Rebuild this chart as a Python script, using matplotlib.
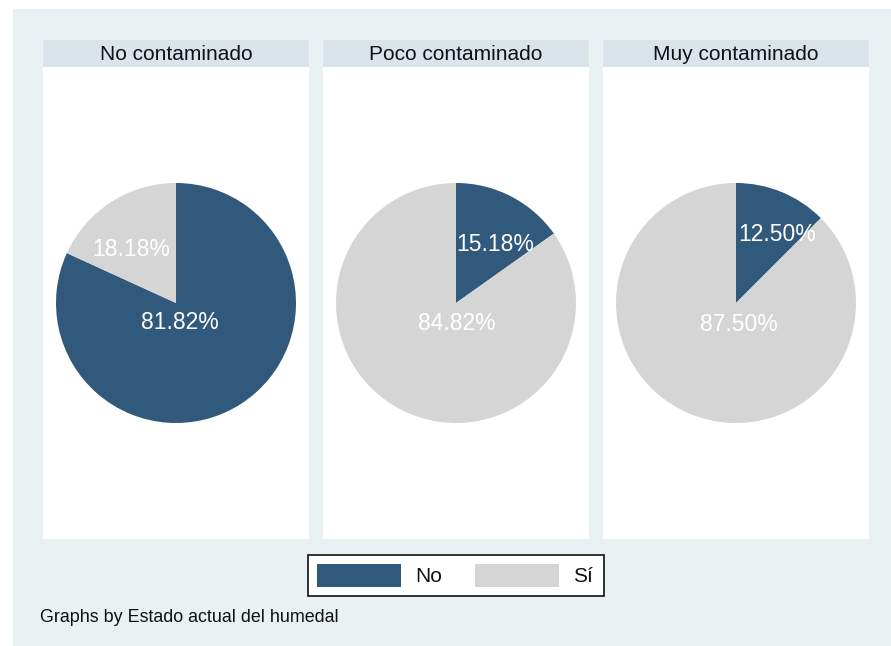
import matplotlib
matplotlib.use("Agg")
import matplotlib.pyplot as plt
from matplotlib.patches import Rectangle

plt.rcParams['font.family'] = ['Liberation Sans', 'DejaVu Sans']

# porcentaje por estado del humedal
groups = ["No contaminado", "Poco contaminado", "Muy contaminado"]
pct_no = [81.82, 15.18, 12.50]
pct_si = [18.18, 84.82, 87.50]
legend_labels = ["No", "Sí"]
footer = "Graphs by Estado actual del humedal"

c_no = "#31597c"
c_si = "#d5d5d5"
c_bg = "#eaf1f3"
c_strip = "#d9e5eb"

W, H = 891, 646
fig = plt.figure(figsize=(W / 100, H / 100), dpi=100)
fig.patch.set_facecolor("white")

# fondo en coordenadas de pixel
bg = fig.add_axes([0, 0, 1, 1])
bg.set_xlim(0, W)
bg.set_ylim(H, 0)
bg.axis("off")
bg.add_patch(Rectangle((13, 9), W - 13, H - 9, facecolor=c_bg, edgecolor="none"))

panel_x = [43, 323, 603]
panel_w = 266
top, strip_bot, bottom = 40, 67, 539
R = 120
cy = 303
# posicion de las etiquetas (fraccion del radio) para No / Si
label_off = [[(0.03, -0.16), (-0.37, 0.45)],
             [(0.33, 0.49), (0.01, -0.17)],
             [(0.34, 0.57), (0.02, -0.18)]]

for i, g in enumerate(groups):
    x0 = panel_x[i]
    bg.add_patch(Rectangle((x0, top), panel_w, bottom - top, facecolor="white", edgecolor="none"))
    bg.add_patch(Rectangle((x0, top), panel_w, strip_bot - top, facecolor=c_strip, edgecolor="none"))
    bg.text(x0 + panel_w / 2, (top + strip_bot) / 2 + 1, g, ha="center", va="center",
            fontsize=15, color="#111111")

    ax = fig.add_axes([x0 / W, (H - bottom) / H, panel_w / W, (bottom - strip_bot) / H])
    cx = x0 + panel_w / 2
    center = (cx, H - cy)
    vals = [pct_no[i], pct_si[i]]
    ax.pie(vals, colors=[c_no, c_si], startangle=90, counterclock=False,
           center=center, radius=R, wedgeprops=dict(linewidth=0))
    ax.set_xlim(x0, x0 + panel_w)
    ax.set_ylim(H - bottom, H - strip_bot)
    ax.set_aspect("equal")
    ax.axis("off")
    for v, (dx, dy) in zip(vals, label_off[i]):
        ax.text(center[0] + dx * R, center[1] + dy * R, f"{v:.2f}%", ha="center", va="center",
                fontsize=16.5, color="white")

# leyenda
bg.add_patch(Rectangle((308, 555), 296, 41, facecolor="white", edgecolor="#222222", linewidth=1.3))
for (px, tx), lab, col in zip([(317, 415), (475, 573)], legend_labels, [c_no, c_si]):
    bg.add_patch(Rectangle((px, 564), 84, 23, facecolor=col, edgecolor="none"))
    bg.text(tx, 576, lab, ha="left", va="center", fontsize=15, color="#111111")

bg.text(40, 617, footer, ha="left", va="center", fontsize=12.9, color="#111111")

fig.savefig("out.png", dpi=100, facecolor=fig.get_facecolor())
